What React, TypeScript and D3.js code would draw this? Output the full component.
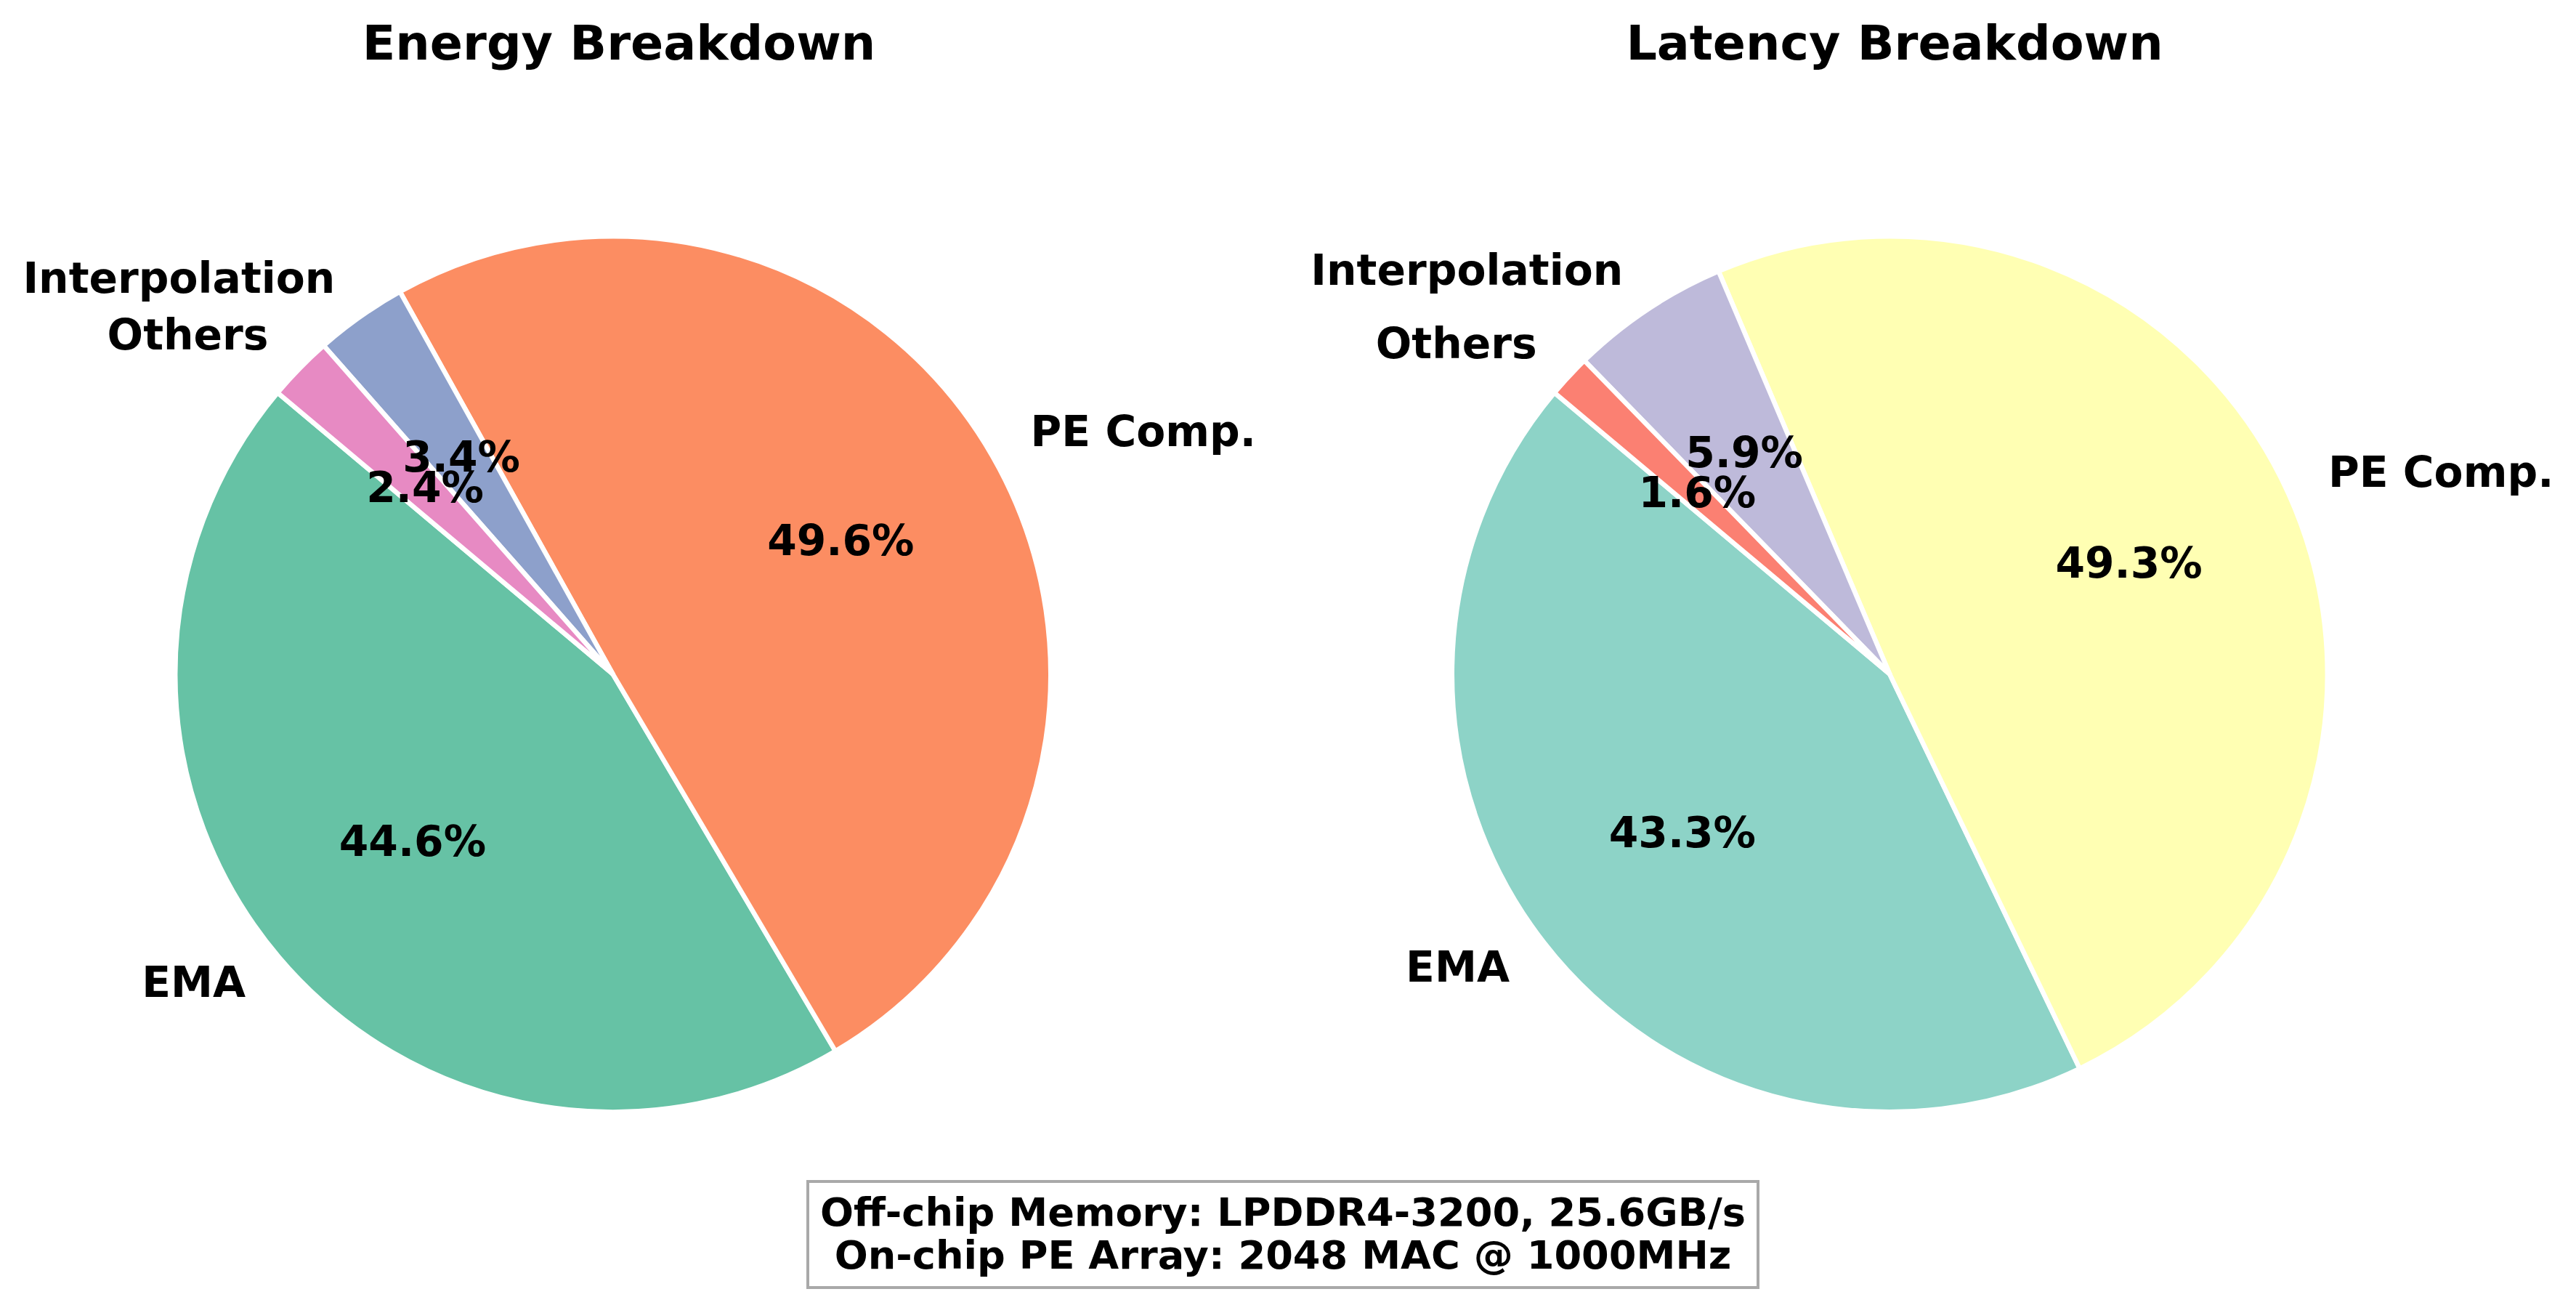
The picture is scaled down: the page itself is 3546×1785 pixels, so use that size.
import React from "react";
import * as d3 from "d3";

const W = 3546;
const H = 1785;

const categories = ["EMA", "PE Comp.", "Interpolation", "Others"];
const energyValues = [44.6, 49.6, 3.4, 2.4];
const latencyValues = [43.3, 49.3, 5.9, 1.6];
const energyColors = ["#66c2a5", "#fc8d62", "#8da0cb", "#e78ac3"];
const latencyColors = ["#8dd3c7", "#ffffb3", "#bebada", "#fb8072"];
const titles = ["Energy Breakdown", "Latency Breakdown"];
const infoLines = [
  "Off-chip Memory: LPDDR4-3200, 25.6GB/s",
  "On-chip PE Array: 2048 MAC @ 1000MHz",
];

const FONT = "'DejaVu Sans', 'Liberation Sans', sans-serif";
const START_ANGLE = 140; // matplotlib-style degrees, counter-clockwise
const LABEL_FS = 58.3;
const TITLE_FS = 66.7;
const BOX_FS = 54.2;

type PieProps = {
  cx: number;
  cy: number;
  r: number;
  values: number[];
  colors: string[];
  title: string;
  titleX: number;
};

function PieChart({ cx, cy, r, values, colors, title, titleX }: PieProps) {
  const toRad = (d: number) => (d * Math.PI) / 180;
  const pie = d3
    .pie<number>()
    .sort(null)
    .value((d) => d)
    .startAngle(toRad(90 - START_ANGLE))
    .endAngle(toRad(90 - START_ANGLE - 360));
  const arcs = pie(values);
  const arcGen = d3.arc<d3.PieArcDatum<number>>().innerRadius(0).outerRadius(r);
  const total = d3.sum(values);
  const fmt = d3.format(".1f");
  const baseOff = 0.276 * LABEL_FS;

  return (
    <g>
      <text
        x={titleX}
        y={82}
        textAnchor="middle"
        fontFamily={FONT}
        fontWeight="bold"
        fontSize={TITLE_FS}
        fill="#000"
      >
        {title}
      </text>
      <g transform={`translate(${cx},${cy})`}>
        {arcs.map((a, i) => (
          <path
            key={"w" + i}
            d={arcGen(a) || ""}
            fill={colors[i]}
            stroke="#ffffff"
            strokeWidth={6.5}
            strokeLinejoin="round"
          />
        ))}
        {arcs.map((a, i) => {
          const mid = (a.startAngle + a.endAngle) / 2;
          const lx = Math.sin(mid) * r * 1.1;
          const ly = -Math.cos(mid) * r * 1.1;
          const px = Math.sin(mid) * r * 0.6;
          const py = -Math.cos(mid) * r * 0.6;
          return (
            <g key={"l" + i}>
              <text
                x={lx}
                y={ly + baseOff}
                textAnchor={lx > 0 ? "start" : "end"}
                fontFamily={FONT}
                fontWeight="bold"
                fontSize={LABEL_FS}
                fill="#000"
              >
                {categories[i]}
              </text>
              <text
                x={px}
                y={py + baseOff}
                textAnchor="middle"
                fontFamily={FONT}
                fontWeight="bold"
                fontSize={LABEL_FS}
                fill="#000"
              >
                {fmt((a.data / total) * 100) + "%"}
              </text>
            </g>
          );
        })}
      </g>
    </g>
  );
}

export default function App() {
  return (
    <svg
      width={W}
      height={H}
      viewBox={`0 0 ${W} ${H}`}
      style={{ position: "absolute", left: 0, top: 0, background: "#fff" }}
    >
      <rect x={0} y={0} width={W} height={H} fill="#fff" />
      <PieChart
        cx={843.7}
        cy={927.8}
        r={602.5}
        values={energyValues}
        colors={energyColors}
        title={titles[0]}
        titleX={852}
      />
      <PieChart
        cx={2601.3}
        cy={927.8}
        r={602.5}
        values={latencyValues}
        colors={latencyColors}
        title={titles[1]}
        titleX={2608}
      />
      <rect
        x={1112}
        y={1626}
        width={1308}
        height={146}
        fill="#fff"
        stroke="#a9a9a9"
        strokeWidth={4}
      />
      {infoLines.map((t, i) => (
        <text
          key={"info" + i}
          x={1766}
          y={1687 + i * 59}
          textAnchor="middle"
          fontFamily={FONT}
          fontWeight="bold"
          fontSize={BOX_FS}
          fill="#000"
        >
          {t}
        </text>
      ))}
    </svg>
  );
}
